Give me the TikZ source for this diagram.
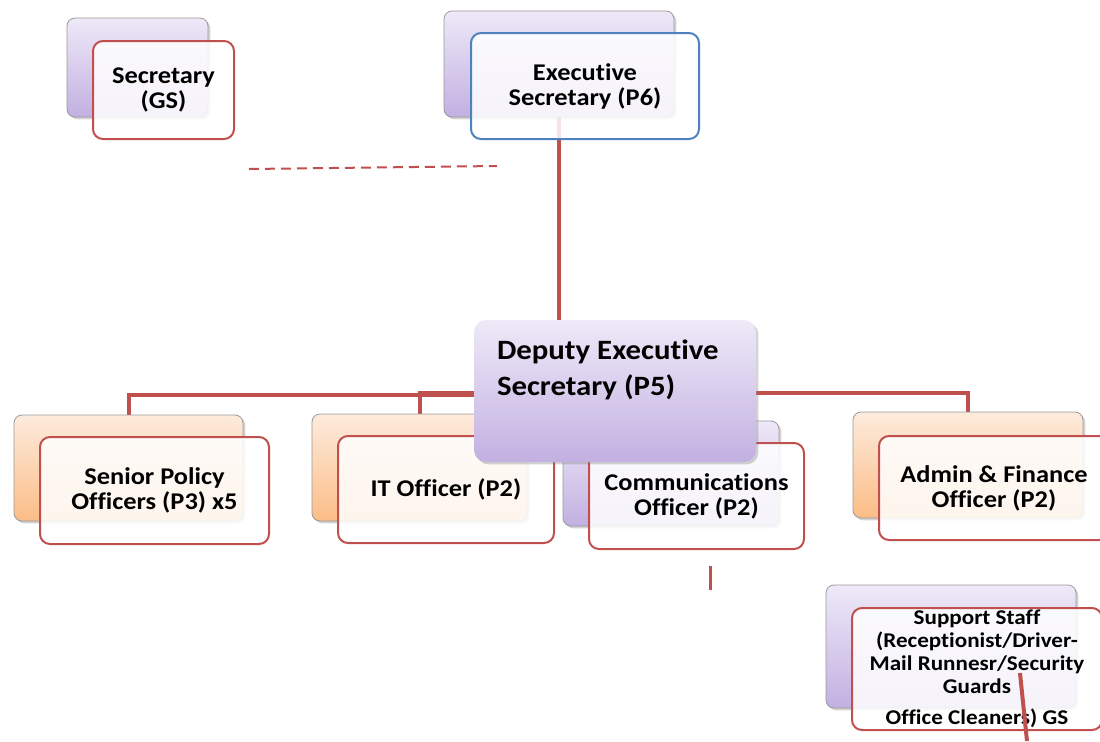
\documentclass[tikz,border=0pt]{standalone}
\usepackage{fontspec}
\setmainfont[FakeStretch=1.1,Ligatures=NoCommon]{Carlito}
\usepackage{tikz}
\usetikzlibrary{positioning,shadows,backgrounds}
\definecolor{boxred}{HTML}{C0504D}
\definecolor{boxblue}{HTML}{4F81BD}
\definecolor{lilactop}{HTML}{EEE9F8}
\definecolor{lilacbot}{HTML}{C2B0E1}
\definecolor{peachtop}{HTML}{FDEBDD}
\definecolor{peachbot}{HTML}{FBBD86}
\tikzset{
	box/.style 2 args={minimum width=#1, minimum height=#2},
	back/.style={rounded corners=4pt, draw=black!40, line width=0.4pt, inner sep=0pt,
		drop shadow={shadow xshift=1.2pt, shadow yshift=-1.2pt, opacity=0.35}},
	lilac/.style={top color=lilactop, bottom color=lilacbot},
	peach/.style={top color=peachtop, bottom color=peachbot},
	front/.style={rounded corners=5pt, draw=boxred, line width=1pt, fill=white,
		fill opacity=0.85, text opacity=1, align=center, inner sep=0pt,
		font=\bfseries\fontsize{12}{12.5}\selectfont},
	link/.style={draw=boxred, line width=2pt}
}

\begin{document}
\begin{tikzpicture}[x=0.5pt,y=-0.5pt]
	\useasboundingbox (0,0) rectangle (1100,741);
	\node[back,lilac,box={70.5pt}{49.5pt}] (SecB) at (137.5,67.5) {};
	\node[back,lilac,box={115pt}{53pt}] (ESB) at (559,64) {};
	\node[back,peach,box={114.5pt}{53pt}] (SPOB) at (128.5,468) {};
	\node[back,peach,box={107.5pt}{53.5pt}] (ITB) at (419.5,467.5) {};
	\node[back,lilac,box={108pt}{52.5pt}] (COB) at (671,473.5) {};
	\node[back,peach,box={115pt}{53pt}] (AFB) at (968,465) {};
	\node[back,lilac,box={125pt}{61.5pt}] (SSB) at (951,646.5) {};
	\node[front,box={70.5pt}{49pt}] (Sec) at (163.5,90) {Secretary\\(GS)};
	\node[front,draw=boxblue,box={114pt}{53pt}] (ES) at (585,86) {Executive\\Secretary (P6)};
	\node[front,box={114.5pt}{53.5pt}] (SPO) at (154.5,490.5) {Senior Policy\\Officers (P3) x5};
	\node[front,box={108pt}{53.5pt}] (IT) at (446,489.5) {IT Officer (P2)};
	\node[front,box={107.5pt}{53pt}] (CO) at (696.5,496) {Communications\\Officer (P2)};
	\node[front,box={115pt}{52pt}] (AF) at (994,488) {Admin \& Finance\\Officer (P2)};
	\node[front,box={125pt}{61pt},font=\bfseries\fontsize{10.5}{11.5}\selectfont] (SS) at (977,669)
		{Support Staff\\(Receptionist/Driver-\\Mail Runnesr/Security\\Guards\\[4pt]Office Cleaners) GS};
	\node[back,lilac,box={141pt}{71pt},rounded corners=6pt,draw=none,
		label={[anchor=north west,xshift=11.5pt,yshift=-10pt,inner sep=0pt,align=left,
		font=\bfseries\fontsize{14}{18}\selectfont]north west:Deputy Executive\\Secretary (P5)}] (DES) at (615,391) {};
	\coordinate (D1) at (249,169);
	\coordinate (D2) at (497,166);
	\coordinate (V1) at (710,566);
	\coordinate (V2) at (710,590);
	\coordinate (S1) at (1020,673);
	\coordinate (S2) at (1027,741);
	\begin{scope}[on background layer]
		\draw[link] (ESB.south) -- (ESB.south |- DES.north);
		\draw[link] ([yshift=-2pt]DES.west) -| (SPOB.north);
		\draw[link] ([yshift=-1pt]DES.west) -| (ITB.north);
		\draw[link] ([yshift=-1pt]DES.east) -| (AFB.north);
	\end{scope}
	\draw[boxred,line width=1pt,dash pattern=on 5pt off 3pt] (D1) -- (D2);
	\draw[boxred,line width=1.5pt] (V1) -- (V2);
	\draw[boxred,line width=2pt] (S1) -- (S2);
\end{tikzpicture}
\end{document}
